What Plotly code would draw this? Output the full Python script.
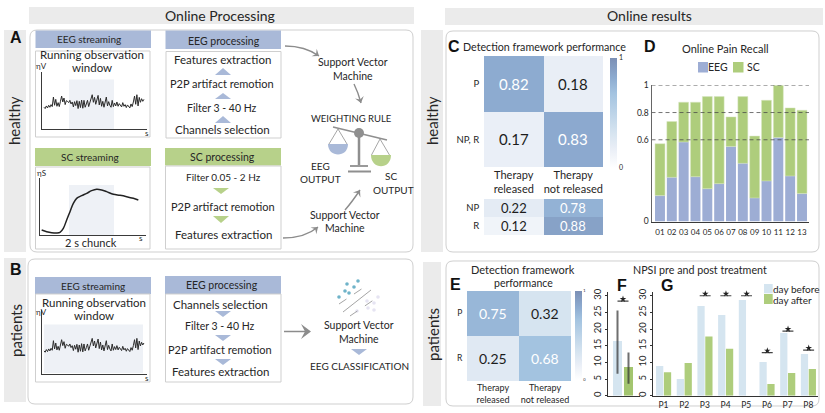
import plotly.graph_objects as go

W, H = 825, 413
FONT = "Lato"
INK = "#262626"
BLUE = "#a9b9d8"
GREEN = "#b7d18a"
BAND = "#ebebeb"
EDGE = "#cfcfcf"
ARROW = "#8c8c8c"

# ---------- data ----------
eeg_signal = [-1.2,-1.6,-0.8,-1.4,-0.6,-1.2,-0.4,-1.0,1.9,-0.6,1.2,-0.9,0.2,-1.0,0.6,2.2,0.4,1.6,-0.4,0.8,
              0.6,0.2,0.9,-0.2,0.4,-1.1,0.5,-0.7,0.8,-1.6,0.6,-1.3,1.0,-1.5,0.9,-1.2,-0.2,0.9,-1.0,0.1,
              1.0,2.6,0.3,1.8,-0.3,1.2,2.4,-0.5,1.5,-0.9,0.6,-1.2,0.3,1.9,-0.8,0.5,-0.6,-1.2,0.9,-1.0,
              0.1,-0.8,0.4,-0.9,-0.1,-0.6,-1.1,0.2,-0.9,-0.4,-1.3,-0.5,-0.9,-1.4,-0.2,-1.0,0.4,2.2,-0.3,2.6,
              -0.8,1.8,0.3,1.4,0.6,1.2]
sc_time = [125,140,155,170,180,190,200,210,220,230,245,260,275,290,305,320,340,360,380,400,415]
sc_level = [15,10,7,6,8,20,45,70,95,110,118,125,133,137,135,130,122,119,115,110,105]

conf_healthy = [[0.82, 0.18], [0.17, 0.83]]
conf_healthy_detail = [[0.22, 0.78], [0.12, 0.88]]
conf_patients = [[0.75, 0.32], [0.25, 0.68]]

subjects = ["01","02","03","04","05","06","07","08","09","10","11","12","13"]
recall_eeg = [0.19,0.324,0.583,0.329,0.241,0.278,0.551,0.427,0.173,0.298,0.617,0.334,0.205]
recall_sc = [0.381,0.41,0.293,0.547,0.676,0.639,0.217,0.49,0.454,0.592,0.383,0.5,0.612]
recall_levels = [1, 0.8, 0.6]

npsi_mean = [16.4, 8.6]
npsi_up = [9.2, 4.4]
npsi_down = [9.8, 5.0]

patients_ids = ["P1","P2","P3","P4","P5","P6","P7","P8"]
day_before = [8.9,5.0,26.9,24.2,28.7,10.1,18.8,12.5]
day_after = [7.0,9.8,17.8,14.1,0,3.5,6.8,8.0]
sig_patients = [2,3,4,5,6,7]
sig_levels = [30,30,30,12.9,19.4,13.7]

colorscale = [[0,"#ffffff"],[0.18,"#e9eef6"],[0.32,"#d6e4f0"],[0.68,"#a3c3e0"],[0.82,"#8dabd0"],[1,"#7b8fb5"]]

# ---------- helpers ----------
px = lambda x: x / W
py = lambda y: 1 - y / H
shapes, notes, traces = [], [], []
layout_axes = {}


def text(x, y, s, size=10, color=INK, bold=False, angle=0, anchor="center", family=FONT):
    notes.append(dict(x=px(x), y=py(y), xref="paper", yref="paper", text=f"<b>{s}</b>" if bold else s,
                      showarrow=False, xanchor=anchor, yanchor="middle", textangle=angle,
                      font=dict(size=size, color=color, family=family), borderpad=0, borderwidth=0))


def rect(x0, y0, x1, y1, fill="rgba(0,0,0,0)", line=None, width=1):
    shapes.append(dict(type="rect", xref="paper", yref="paper", x0=px(x0), x1=px(x1), y0=py(y0), y1=py(y1),
                       fillcolor=fill, line=dict(color=line or "rgba(0,0,0,0)", width=width if line else 0),
                       layer="below"))


def path(cmds, fill=None, line=None, width=1, dash=None, layer="above"):
    out = []
    for c in cmds:
        if isinstance(c, str):
            out.append(c)
        else:
            out.append(f"{px(c[0]):.5f},{py(c[1]):.5f}")
    d = dict(type="path", xref="paper", yref="paper", path=" ".join(out), layer=layer,
             line=dict(color=line or "rgba(0,0,0,0)", width=width if line else 0))
    if dash:
        d["line"]["dash"] = dash
    if fill:
        d["fillcolor"] = fill
    shapes.append(d)


def rounded(x0, y0, x1, y1, r=7):
    path(["M", (x0 + r, y0), "L", (x1 - r, y0), "Q", (x1, y0), (x1, y0 + r), "L", (x1, y1 - r), "Q", (x1, y1),
          (x1 - r, y1), "L", (x0 + r, y1), "Q", (x0, y1), (x0, y1 - r), "L", (x0, y0 + r), "Q", (x0, y0), (x0 + r, y0), "Z"],
         line=EDGE, width=1, layer="below")


def tri(cx, y0, y1, color, hw=8):
    path(["M", (cx, y0), "L", (cx + hw, y1), "L", (cx - hw, y1), "Z"], fill=color)


def head(x, y, dx, dy, size=6):
    n = (dx * dx + dy * dy) ** 0.5
    ux, uy = dx / n, dy / n
    bx, by = x - ux * size, y - uy * size
    nx, ny = -uy, ux
    path(["M", (x, y), "L", (bx + nx * size * .75, by + ny * size * .75), "L", (x - ux * size * .6, y - uy * size * .6),
          "L", (bx - nx * size * .75, by - ny * size * .75), "Z"], fill=ARROW)


def curve(p0, c, p1):
    path(["M", p0, "Q", c, p1], line=ARROW, width=1.4)
    head(p1[0], p1[1], p1[0] - c[0], p1[1] - c[1])


def add_axes(n, x0, x1, y0, y1, xr, yr, xa=None, ya=None):
    sx = "" if n == 1 else str(n)
    base = dict(showgrid=False, zeroline=False, showticklabels=False, ticks="", fixedrange=True)
    xd = dict(base, domain=[px(x0), px(x1)], range=xr, anchor="y" + sx)
    yd = dict(base, domain=[py(y1), py(y0)], range=yr, anchor="x" + sx)
    xd.update(xa or {})
    yd.update(ya or {})
    layout_axes["xaxis" + sx] = xd
    layout_axes["yaxis" + sx] = yd
    return "x" + sx, "y" + sx


line_axis = dict(showline=True, linecolor="#3a3a3a", linewidth=1.2)


def heat(n, z, x0, x1, y0, y1, yl, xl=None, bar=None, cell=15, fs_y=9, fs_x=10):
    xa = dict(tickmode="array", tickvals=[0, 1], ticktext=xl or ["", ""], showticklabels=bool(xl),
              tickfont=dict(size=fs_x, color=INK, family=FONT), ticks="", side="bottom", ticklabelstandoff=0)
    ya = dict(tickmode="array", tickvals=list(range(len(yl))), ticktext=yl, showticklabels=True,
              tickfont=dict(size=fs_y, color=INK, family=FONT), ticks="outside", ticklen=2, tickcolor="rgba(0,0,0,0)")
    xr, yr = add_axes(n, x0, x1, y0, y1, [-0.5, 1.5], [len(yl) - 0.5, -0.5], xa, ya)
    t = dict(z=z, x=[0, 1], y=list(range(len(yl))), zmin=0, zmax=1, colorscale=colorscale, xaxis=xr, yaxis=yr,
             hoverinfo="skip", showscale=bool(bar))
    if bar:
        t["colorbar"] = dict(x=px(bar[0]), xanchor="left", y=py(bar[1]), yanchor="top", len=(bar[2] - bar[1]) / H,
                             lenmode="fraction", thickness=6.5, thicknessmode="pixels", outlinewidth=0, tickvals=[0, 1],
                             tickfont=dict(size=bar[3], color=INK, family=FONT), xpad=0, ypad=0, ticks="", ticklabelposition="outside")
    traces.append(go.Heatmap(**t))
    for j, row in enumerate(z):
        for i, v in enumerate(row):
            notes.append(dict(x=i, y=j, xref=xr, yref=yr, text=f"{v:.2f}", showarrow=False,
                              font=dict(size=cell, family=FONT, color="#ffffff" if v >= 0.6 else "#1c1c1c")))


# ---------- bands and frames ----------
rect(29, 7, 414, 24, BAND)
rect(445, 8, 823, 25, BAND)
rect(4, 30, 26, 252, BAND)
rect(4, 258, 26, 402, BAND)
rect(421, 30, 443, 252, BAND)
rect(423, 262, 441, 406, BAND)
rounded(30, 30, 413, 252)
rounded(28, 259, 413, 404)
rounded(446, 31, 819, 252)
rounded(446, 261, 819, 406)
text(220, 16, "Online Processing", 14)
text(649, 16, "Online results", 14)
text(14, 121, "healthy", 15, angle=-90)
text(16, 331, "patients", 15, angle=-90)
text(432, 121, "healthy", 15, angle=-90)
text(433, 335, "patients", 15, angle=-90)
for x, y, s in [(16, 38, "A"), (16, 269, "B"), (454, 46, "C"), (650, 47, "D"), (455, 284, "E"), (622, 285, "F"), (667, 285, "G")]:
    text(x, y, s, 16, color="#111111", bold=True, family="Liberation Sans")

# ---------- panel A ----------
rect(35.5, 30.5, 151, 48, BLUE)
text(89, 39, "EEG streaming", 10)
rect(35.5, 51, 150, 137, "#ffffff", EDGE)
text(92, 54, "Running observation", 11.5)
text(92, 68, "window", 11.5)
rect(69, 79.5, 114, 129, "#eef1f6")
text(41, 66, "ηV", 8)
text(147, 133, "s", 8)
xr, yr = add_axes(1, 42, 147, 72, 129, [-1.7, 87.6], [-7.8, 9.5], line_axis, line_axis)
traces.append(go.Scatter(x=list(range(len(eeg_signal))), y=eeg_signal, mode="lines", xaxis=xr, yaxis=yr,
                         line=dict(color="#2b2b2b", width=1), hoverinfo="skip"))

rect(35, 148, 151, 166, GREEN)
text(90, 157, "SC streaming", 10)
rect(35.5, 167, 150, 249, "#ffffff", EDGE)
rect(69, 185, 114, 235, "#eef1f6")
text(41, 173, "ηS", 8)
text(141, 238, "s", 8)
text(91, 242, "2 s chunck", 11)
xr, yr = add_axes(2, 40, 146, 178, 235, [120, 438], [0, 171], line_axis, line_axis)
traces.append(go.Scatter(x=sc_time, y=sc_level, mode="lines", xaxis=xr, yaxis=yr, line=dict(color="#222222", width=1.5, shape="spline"), hoverinfo="skip"))

rect(165.5, 30.5, 281, 49, BLUE)
text(224, 41, "EEG processing", 10.5)
rect(166, 51.5, 281, 138, "#ffffff", EDGE)
for y, s, fs in [(60, "Features extraction", 11.5), (83, "P2P artifact remotion", 11), (108, "Filter 3 - 40 Hz", 10.5), (130, "Channels selection", 11.5)]:
    text(222, y, s, fs)
for y in [(68, 75), (93, 99), (116, 123)]:
    tri(223, y[0], y[1], BLUE)

rect(165, 148, 281, 165.5, GREEN)
text(222, 157, "SC processing", 10.5)
rect(165.5, 166, 281, 249, "#ffffff", EDGE)
for y, s, fs in [(177, "Filter 0.05 - 2 Hz", 10), (206, "P2P artifact remotion", 11), (234, "Features extraction", 11.5)]:
    text(223, y, s, fs)
for y in [(194, 188), (223, 216)]:
    tri(221, y[0], y[1], GREEN)

curve((285, 46), (305, 46), (319, 56))
curve((354, 84), (358, 92), (361, 103))
curve((283, 238), (305, 238), (318, 227))
curve((345, 210), (352, 202), (360, 190))
text(353, 62, "Support Vector", 10.5)
text(353, 76, "Machine", 10.5)
text(351, 118, "WEIGHTING RULE", 9.5)
text(320, 166, "EEG", 10)
text(320, 179, "OUTPUT", 10)
text(391, 176, "SC", 10)
text(393, 190, "OUTPUT", 10)
text(345, 215, "Support Vector", 10.5)
text(345, 228, "Machine", 10.5)
# balance
G = "#8f8f8f"
path(["M", (333, 127), "L", (387, 140)], line=G, width=1.6)
path(["M", (359, 133), "L", (359, 165)], line=G, width=2.5)
path(["M", (350, 166), "L", (368, 166)], line=G, width=1.8)
path(["M", (348, 171.5), "L", (371, 171.5)], line=G, width=2)
shapes.append(dict(type="circle", xref="paper", yref="paper", x0=px(354), x1=px(364), y0=py(138), y1=py(128), fillcolor=G, line=dict(width=0)))
path(["M", (329, 144), "L", (338, 129), "L", (347, 144)], line=G, width=0.8)
path(["M", (371.5, 155), "L", (380, 139), "L", (389.5, 155)], line=G, width=0.8)
path(["M", (328, 144), "C", (328, 158), (348, 158), (348, 144), "Z"], fill=BLUE)
path(["M", (371, 155), "C", (371, 170), (391, 170), (391, 155), "Z"], fill=GREEN)

# ---------- panel B ----------
rect(35, 277, 151, 294, BLUE)
text(93, 286, "EEG streaming", 10)
rect(35.5, 294, 150, 382, "#ffffff", EDGE)
text(94, 302, "Running observation", 11.5)
text(94, 315.5, "window", 11.5)
rect(44, 324.5, 143, 373, "#eef1f6")
text(41, 312, "ηV", 8)
text(147, 378, "s", 8)
xr, yr = add_axes(3, 42, 147, 310, 374, [-1.7, 87.6], [-8.2, 11.2], line_axis, line_axis)
traces.append(go.Scatter(x=list(range(len(eeg_signal))), y=eeg_signal, mode="lines", xaxis=xr, yaxis=yr,
                         line=dict(color="#2b2b2b", width=1), hoverinfo="skip"))

rect(165, 276, 281, 294, BLUE)
text(222, 285, "EEG processing", 10.5)
rect(165.5, 294, 281, 382, "#ffffff", EDGE)
for y, s, fs in [(304, "Channels selection", 11.5), (326, "Filter 3 - 40 Hz", 10.5), (349, "P2P artifact remotion", 11), (371, "Features extraction", 11.5)]:
    text(220, y, s, fs)
for y in [(317, 311), (341, 335), (365, 359)]:
    tri(223, y[0], y[1], BLUE)
path(["M", (284, 331.5), "L", (308, 331.5)], line=ARROW, width=1.5)
head(311, 331.5, 1, 0, 10)
text(359, 325, "Support Vector", 10.5)
text(359, 339, "Machine", 10.5)
tri(359, 355, 349, BLUE)
text(359, 366, "EEG CLASSIFICATION", 10)
for cx, cy in [(339, 297), (347, 284), (358, 281), (354, 287), (345, 291), (349, 293)]:
    shapes.append(dict(type="circle", xref="paper", yref="paper", x0=px(cx - 1.8), x1=px(cx + 1.8), y0=py(cy + 1.8), y1=py(cy - 1.8), fillcolor="#6fb3c9", line=dict(width=0)))
for cx, cy in [(378, 297), (367, 301), (374, 303), (368, 308), (374, 310), (357, 311)]:
    shapes.append(dict(type="circle", xref="paper", yref="paper", x0=px(cx - 1.8), x1=px(cx + 1.8), y0=py(cy + 1.8), y1=py(cy - 1.8), fillcolor="#e6e4f2", line=dict(width=0)))
path(["M", (343, 312), "L", (371, 290)], line="#9a9a9a", width=0.9)
path(["M", (339, 304), "L", (363, 288)], line="#9a9a9a", width=0.9, dash="dash")
path(["M", (350, 316), "L", (378, 297)], line="#9a9a9a", width=0.9, dash="dash")

# ---------- panels C, E ----------
text(544, 46, "Detection framework performance", 10.7)
heat(4, conf_healthy, 484, 603, 56, 167, ["P", "NP, R"], ["Therapy<br>released", "Therapy<br>not released"], bar=(610, 57.5, 167, 7), cell=15, fs_y=9.5, fs_x=11)
heat(5, conf_healthy_detail, 484, 603, 199, 235, ["NP", "R"], cell=13, fs_y=9.5)
text(523, 269, "Detection framework", 11)
text(523, 283, "performance", 10.5)
heat(6, conf_patients, 467, 571, 291, 381, ["P", "R"], ["Therapy<br>released", "Therapy<br>not released"], bar=(575, 291, 380, 4), cell=14, fs_y=8.5, fs_x=9)

# ---------- panel D ----------
text(725, 48, "Online Pain Recall", 11)
rect(698, 62, 708, 72.5, "#9dadd4")
text(708, 67, "EEG", 10.5, anchor="left")
rect(733, 62, 743.5, 72.5, "#aecd7c")
text(747, 67, "SC", 10.5, anchor="left")
pitch = 11.85
d_x = dict(showline=True, linecolor="#3a3a3a", linewidth=1, tickmode="array", tickvals=list(range(13)), ticktext=subjects, tickangle=0,
           showticklabels=True, tickfont=dict(size=8, color=INK, family=FONT), ticks="", ticklabelstandoff=3)
d_y = dict(showline=True, linecolor="#666666", linewidth=1, tickmode="array", tickvals=[0, 0.6, 0.8, 1], ticktext=["0", "0.6", "0.8", "1"],
           showticklabels=True, tickfont=dict(size=8.5, color=INK, family=FONT), ticks="")
xr, yr = add_axes(7, 651.5, 809, 85.3, 221.5, [(651.5 - 660) / pitch, 12 + (809 - 802) / pitch], [0, 1], d_x, d_y)
xs = list(range(13))
traces.append(go.Bar(x=xs, y=recall_eeg, width=0.84, xaxis=xr, yaxis=yr, marker=dict(color="#9dadd4", line=dict(width=0)), hoverinfo="skip", showlegend=False))
traces.append(go.Bar(x=xs, y=recall_sc, base=recall_eeg, width=0.84, xaxis=xr, yaxis=yr, marker=dict(color="#aecd7c", line=dict(width=0.5, color="#d8e6c2")), hoverinfo="skip", showlegend=False))
gx, gy = [], []
for lv in recall_levels:
    gx += [-0.717, 12.59, None]
    gy += [lv, lv, None]
traces.append(go.Scatter(x=gx, y=gy, mode="lines", xaxis=xr, yaxis=yr, cliponaxis=False, line=dict(color="rgba(70,70,70,0.75)", width=1, dash="4px,3px"), hoverinfo="skip", showlegend=False))

# ---------- panel F ----------
text(700, 269, "NPSI pre and post treatment", 10.7)
rot_y = dict(showline=True, linecolor="#333333", linewidth=1, tickmode="array", tickvals=[0, 5, 10, 15, 20, 25, 30], showticklabels=True,
             tickangle=-90, tickfont=dict(size=9.5, color=INK, family=FONT), ticks="outside", ticklen=2, tickcolor="#333333")
base_x = dict(showline=True, linecolor="#333333", linewidth=1.2)
f_pitch = 11.0
xr, yr = add_axes(8, 608, 640, 292.4, 395.7, [(608 - 617.5) / f_pitch, 1 + (640 - 628.5) / f_pitch], [0, 31], base_x, rot_y)
traces.append(go.Bar(x=[0], y=[npsi_mean[0]], width=0.82, xaxis=xr, yaxis=yr, marker=dict(color="#d5e5f0", line=dict(width=0)), hoverinfo="skip", showlegend=False,
                     error_y=dict(type="data", symmetric=False, array=[npsi_up[0]], arrayminus=[npsi_down[0]], color="rgba(50,50,50,0.7)", thickness=2, width=0)))
traces.append(go.Bar(x=[1], y=[npsi_mean[1]], width=0.82, xaxis=xr, yaxis=yr, marker=dict(color="#a3c56f", line=dict(width=0)), hoverinfo="skip", showlegend=False,
                     error_y=dict(type="data", symmetric=False, array=[npsi_up[1]], arrayminus=[npsi_down[1]], color="rgba(50,50,50,0.7)", thickness=2, width=0)))
traces.append(go.Scatter(x=[0.0, 1.0], y=[28.4, 28.4], mode="lines", xaxis=xr, yaxis=yr, line=dict(color="#444444", width=1.2), hoverinfo="skip", showlegend=False))
traces.append(go.Scatter(x=[0.5], y=[29.0], mode="markers", xaxis=xr, yaxis=yr, marker=dict(symbol="star", size=5, color="#222222"), hoverinfo="skip", showlegend=False))

# ---------- panel G ----------
g_pitch = 20.7
g_x = dict(base_x, tickmode="array", tickvals=list(range(8)), ticktext=patients_ids, showticklabels=True, tickfont=dict(size=8.5, color=INK, family=FONT), ticks="", ticklabelstandoff=1)
xr, yr = add_axes(9, 653, 818, 292.4, 395.7, [(653 - 663.5) / g_pitch, 7 + (818 - 808.3) / g_pitch], [0, 31], g_x, rot_y)
xs = list(range(8))
traces.append(go.Bar(x=xs, y=day_before, width=0.35, offset=-0.36, xaxis=xr, yaxis=yr, marker=dict(color="#d5e5f0", line=dict(width=0)), hoverinfo="skip", showlegend=False))
traces.append(go.Bar(x=xs, y=day_after, width=0.35, offset=0.02, xaxis=xr, yaxis=yr, marker=dict(color="#aecd7c", line=dict(width=0)), hoverinfo="skip", showlegend=False))
sx, sy = [], []
for c, lv in zip(sig_patients, sig_levels):
    sx += [c - 0.25, c + 0.28, None]
    sy += [lv, lv, None]
traces.append(go.Scatter(x=sx, y=sy, mode="lines", xaxis=xr, yaxis=yr, line=dict(color="#444444", width=1.2), hoverinfo="skip", showlegend=False, cliponaxis=False))
traces.append(go.Scatter(x=[c + 0.02 for c in sig_patients], y=[lv + 0.6 for lv in sig_levels], mode="markers", xaxis=xr, yaxis=yr, cliponaxis=False,
                         marker=dict(symbol="star", size=5, color="#222222"), hoverinfo="skip", showlegend=False))
rect(764, 284, 772.7, 293.3, "#d5e5f0")
rect(764, 294, 772.7, 304, "#aecd7c")
text(773, 289, "day before", 10, anchor="left")
text(773, 300, "day after", 10, anchor="left")

fig = go.Figure(data=traces)
fig.update_layout(width=W, height=H, margin=dict(l=0, r=0, t=0, b=0, autoexpand=False), autosize=False, paper_bgcolor="#ffffff", plot_bgcolor="rgba(0,0,0,0)",
                  barmode="overlay", showlegend=False, shapes=shapes, annotations=notes, font=dict(family=FONT), **layout_axes)
fig.write_html("out.html", config=dict(displayModeBar=False),
               post_script="document.body.style.margin='0';document.body.style.overflow='hidden';")
